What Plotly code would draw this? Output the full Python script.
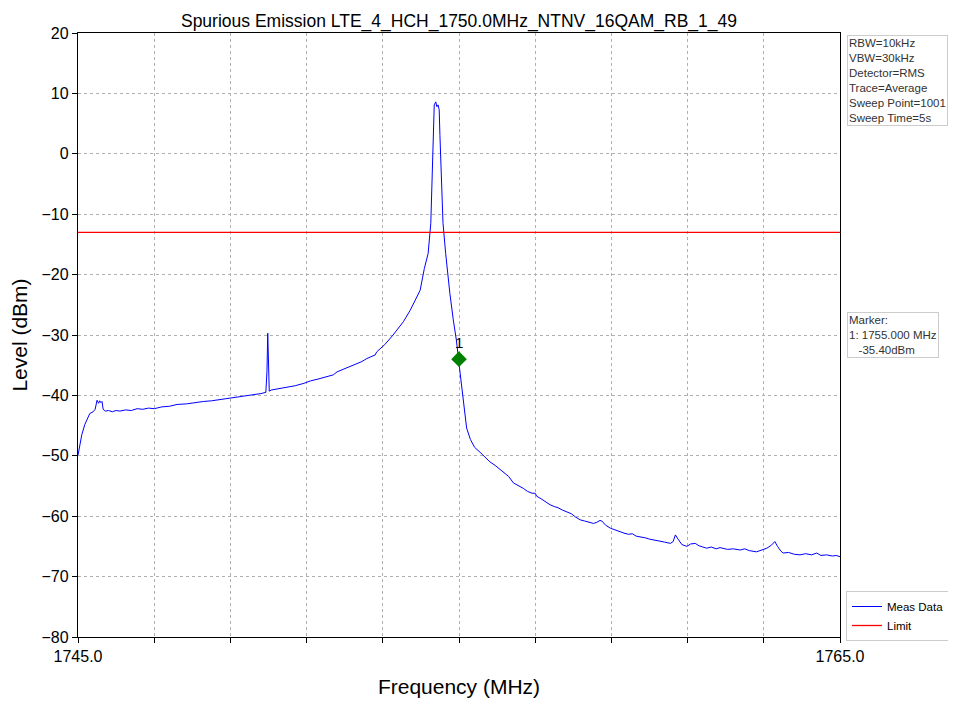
import plotly.graph_objects as go

freq_mhz = [
    1745.00, 1745.05, 1745.10, 1745.18, 1745.25, 1745.31, 1745.40, 1745.45, 1745.50, 1745.54,
    1745.57, 1745.60, 1745.63, 1745.66, 1745.72, 1745.80, 1745.90, 1746.00, 1746.10, 1746.25,
    1746.40, 1746.55, 1746.70, 1746.85, 1747.00, 1747.20, 1747.40, 1747.60, 1747.85, 1748.05,
    1748.30, 1748.50, 1748.73, 1749.00, 1749.20, 1749.40, 1749.60, 1749.80, 1749.93, 1749.96,
    1749.98, 1750.00, 1750.02, 1750.08, 1750.25, 1750.48, 1750.70, 1750.93, 1751.10, 1751.30,
    1751.50, 1751.70, 1751.80, 1752.00, 1752.23, 1752.45, 1752.58, 1752.80, 1752.84, 1753.05,
    1753.27, 1753.54, 1753.72, 1753.89, 1753.98, 1754.09, 1754.19, 1754.26, 1754.29, 1754.30,
    1754.32, 1754.33, 1754.35, 1754.39, 1754.42, 1754.45, 1754.48, 1754.50, 1754.52, 1754.55,
    1754.58, 1754.65, 1754.69, 1754.76, 1754.85, 1754.93, 1755.02, 1755.11, 1755.20, 1755.30,
    1755.41, 1755.55, 1755.70, 1755.81, 1755.95, 1756.08, 1756.20, 1756.30, 1756.43, 1756.55,
    1756.69, 1756.80, 1756.92, 1757.00, 1757.04, 1757.15, 1757.28, 1757.39, 1757.50, 1757.60,
    1757.72, 1757.83, 1757.95, 1758.05, 1758.18, 1758.30, 1758.40, 1758.53, 1758.62, 1758.70,
    1758.75, 1758.85, 1758.98, 1759.10, 1759.20, 1759.33, 1759.45, 1759.55, 1759.65, 1759.76,
    1759.90, 1760.00, 1760.11, 1760.25, 1760.40, 1760.55, 1760.62, 1760.68, 1760.75, 1760.85,
    1760.98, 1761.08, 1761.20, 1761.30, 1761.40, 1761.50, 1761.62, 1761.75, 1761.85, 1761.94,
    1762.05, 1762.20, 1762.38, 1762.50, 1762.62, 1762.81, 1762.95, 1763.08, 1763.20, 1763.29,
    1763.36, 1763.45, 1763.51, 1763.65, 1763.80, 1763.95, 1764.10, 1764.25, 1764.39, 1764.50,
    1764.65, 1764.80, 1764.90, 1765.00,
]
level_dbm = [
    -49.9, -48.0, -46.5, -44.8, -43.7, -43.0, -42.7, -42.3, -40.8, -41.3,
    -40.9, -41.2, -41.0, -42.3, -42.6, -42.5, -42.7, -42.5, -42.6, -42.4,
    -42.5, -42.2, -42.3, -42.1, -42.2, -41.9, -41.8, -41.5, -41.4, -41.2,
    -41.0, -40.9, -40.7, -40.4, -40.2, -40.0, -39.9, -39.7, -39.5, -36.0,
    -29.7, -34.0, -39.3, -39.1, -38.9, -38.7, -38.4, -38.0, -37.6, -37.3,
    -37.0, -36.6, -36.1, -35.6, -35.0, -34.4, -33.9, -33.3, -32.8, -31.6,
    -30.0, -27.8, -25.9, -23.7, -22.6, -19.0, -16.5, -11.5, -5.0, -0.5,
    3.5, 7.3, 8.1, 8.6, 7.8, 8.1, 7.3, 3.0, -0.5, -6.0,
    -11.5, -16.5, -19.0, -23.1, -27.5, -30.8, -35.8, -40.8, -45.4, -47.3,
    -48.6, -49.4, -50.3, -51.0, -51.6, -52.3, -53.0, -53.4, -54.5, -54.9,
    -55.4, -55.9, -56.2, -56.2, -56.7, -57.1, -57.7, -58.1, -58.4, -58.6,
    -59.0, -59.3, -59.6, -60.1, -60.6, -60.8, -61.0, -61.2, -61.0, -60.7,
    -60.8, -61.5, -62.0, -62.3, -62.5, -62.8, -63.0, -62.9, -63.3, -63.4,
    -63.6, -63.8, -63.9, -64.1, -64.3, -64.5, -64.2, -63.1, -63.8, -64.7,
    -65.0, -64.6, -64.5, -64.9, -65.1, -65.3, -65.1, -65.4, -65.2, -65.3,
    -65.5, -65.4, -65.6, -65.4, -65.7, -65.9, -65.6, -65.3, -64.8, -64.2,
    -65.0, -65.8, -66.1, -66.0, -66.3, -66.4, -66.2, -66.4, -66.1, -66.5,
    -66.4, -66.6, -66.5, -66.7,
]
limit_freq = [1745.0, 1765.0]
limit_level = [-13.0, -13.0]
marker_freq = [1755.0]
marker_level = [-34.0]
marker_label = "1"
x_tick_vals = [1745, 1747, 1749, 1751, 1753, 1755, 1757, 1759, 1761, 1763, 1765]
x_tick_text = ["1745.0", "", "", "", "", "", "", "", "", "", "1765.0"]
y_tick_vals = [20, 10, 0, -10, -20, -30, -40, -50, -60, -70, -80]

settings_text = "RBW=10kHz<br>VBW=30kHz<br>Detector=RMS<br>Trace=Average<br>Sweep Point=1001<br>Sweep Time=5s"
marker_text = "Marker:<br>1: 1755.000 MHz<br>\u00a0\u00a0\u00a0-35.40dBm"
title_text = "Spurious Emission LTE_4_HCH_1750.0MHz_NTNV_16QAM_RB_1_49"

FONT = "Liberation Sans, Arial, sans-serif"
GRID_DASH = "3px,3px"
FIG_W, FIG_H = 948, 697

fig = go.Figure()
fig.add_trace(go.Scatter(x=freq_mhz, y=level_dbm, mode="lines", name="Meas Data",
                         line=dict(color="#0000ff", width=1)))
fig.add_trace(go.Scatter(x=limit_freq, y=limit_level, mode="lines", name="Limit",
                         line=dict(color="#ff0000", width=1.3)))
fig.add_trace(go.Scatter(x=marker_freq, y=marker_level, mode="markers", showlegend=False,
                         marker=dict(symbol="diamond", size=12, color="#008000")))

fig.add_annotation(x=marker_freq[0], y=marker_level[0], text=marker_label, showarrow=False,
                   yshift=17, font=dict(size=15, color="black", family=FONT))

fig.add_annotation(xref="paper", yref="paper", x=1.009, y=0.997, xanchor="left", yanchor="top",
                   text=settings_text, showarrow=False, align="left",
                   font=dict(size=11.5, color="#333333", family=FONT),
                   bordercolor="#cccccc", borderwidth=1, borderpad=1, bgcolor="white")
fig.add_annotation(xref="paper", yref="paper", x=1.009, y=0.538, xanchor="left", yanchor="top",
                   text=marker_text, showarrow=False, align="left",
                   font=dict(size=11.5, color="#333333", family=FONT),
                   bordercolor="#cccccc", borderwidth=1, borderpad=1, bgcolor="white")

fig.update_layout(
    width=FIG_W, height=FIG_H,
    margin=dict(l=70, r=116, t=25, b=68, autoexpand=False),
    paper_bgcolor="white", plot_bgcolor="white",
    font=dict(family=FONT, color="black"),
    title=dict(text=title_text, x=0.5, xref="paper", xanchor="center", y=0.99, yanchor="top",
               font=dict(size=17.5, color="black", family=FONT)),
    showlegend=True,
    legend=dict(xref="container", yref="container",
                x=838 / FIG_W, y=(FIG_H - 633) / FIG_H, xanchor="left", yanchor="bottom",
                bordercolor="#cccccc", borderwidth=1, bgcolor="white",
                font=dict(size=11.5, color="black", family=FONT),
                tracegroupgap=0, itemwidth=30),
)
fig.update_xaxes(range=[1745, 1765], tickvals=x_tick_vals, ticktext=x_tick_text,
                 ticks="outside", ticklen=5, tickcolor="black",
                 showline=True, linecolor="black", linewidth=1.3, mirror=True,
                 showgrid=True, gridcolor="#b0b0b0", griddash=GRID_DASH, gridwidth=0.8,
                 zeroline=False, tickfont=dict(size=16, family=FONT),
                 title=dict(text="Frequency (MHz)", font=dict(size=21, family=FONT), standoff=14))
fig.update_yaxes(range=[-80, 20], tickvals=y_tick_vals,
                 ticks="outside", ticklen=5, tickcolor="black",
                 showline=True, linecolor="black", linewidth=1.3, mirror=True,
                 showgrid=True, gridcolor="#b0b0b0", griddash=GRID_DASH, gridwidth=0.8,
                 zeroline=False, tickfont=dict(size=16, family=FONT),
                 title=dict(text="Level (dBm)", font=dict(size=21, family=FONT), standoff=8))

fig.write_html("out.html")
